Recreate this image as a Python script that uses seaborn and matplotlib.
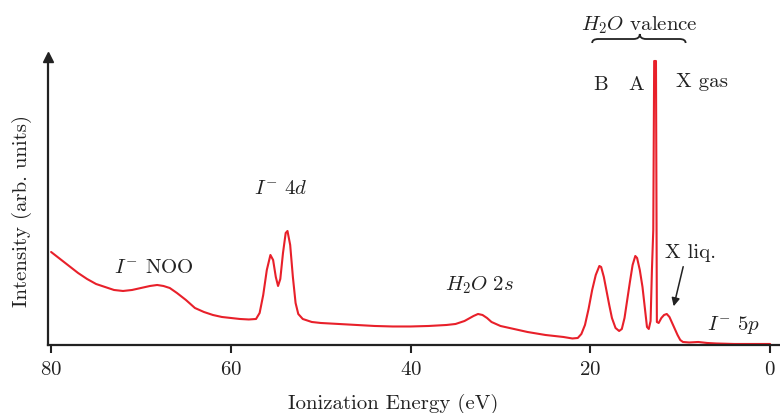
import numpy as np
import pandas as pd
import matplotlib
matplotlib.use("Agg")
import matplotlib.pyplot as plt
import seaborn as sns
from matplotlib.path import Path
from matplotlib.patches import PathPatch

# spectrum (ionization energy in eV, intensity arb. units)
energy = [80.0, 79.0, 78.0, 77.0, 76.0, 75.0, 74.0, 73.0, 72.0, 71.0, 70.0, 69.0,
          68.2, 67.5, 66.8, 66.0, 65.0, 64.0, 63.0, 62.0, 61.0, 60.0, 59.0, 58.0,
          57.2, 56.8, 56.4, 56.0, 55.6, 55.3, 55.0, 54.75, 54.5, 54.2, 53.9, 53.7,
          53.4, 53.1, 52.8, 52.5, 52.0, 51.0, 50.0, 48.0, 46.0, 44.0, 42.0, 40.0,
          38.0, 36.0, 35.0, 34.0, 33.0, 32.5, 32.0, 31.5, 31.0, 30.0, 29.0, 28.0,
          27.0, 26.0, 25.0, 24.0, 23.0, 22.0, 21.4, 21.0, 20.6, 20.2, 19.8, 19.4,
          19.0, 18.8, 18.5, 18.2, 17.9, 17.6, 17.2, 16.8, 16.5, 16.2, 15.9, 15.6,
          15.3, 15.0, 14.8, 14.5, 14.2, 13.9, 13.7, 13.5, 13.3, 13.15, 13.0, 12.9,
          12.7, 12.6, 12.4, 12.1, 11.8, 11.5, 11.2, 10.9, 10.6, 10.3, 10.0, 9.7,
          9.0, 8.0, 7.0, 6.0, 4.0, 2.0, 0.0]
intensity = [93, 86, 79, 72, 66, 61, 58, 55, 54, 55, 57, 59,
             60, 59, 57, 52, 45, 37, 33, 30, 28, 27, 26, 25.5,
             26, 32, 50, 75, 90, 85, 68, 59, 66, 92, 112, 114,
             100, 68, 42, 31, 26, 23, 22, 21, 20, 19, 18.5, 18.5,
             19, 20, 21, 24, 29, 31, 30, 27, 23, 19, 17, 15,
             13, 11.5, 10, 9, 8, 6.5, 7, 11, 20, 36, 55, 70,
             79, 78, 68, 54, 40, 27, 17, 14, 16, 27, 45, 63,
             80, 89, 87, 75, 58, 34, 18, 16, 24, 75, 115, 284,
             284, 23, 22, 27, 30, 31, 28, 22, 16, 10, 5, 3,
             2.5, 3, 2, 1.5, 1, 1, 1]

df = pd.DataFrame({"energy": energy, "intensity": intensity})

sns.set_style("ticks")
plt.rcParams["font.family"] = ["cmr10"]
plt.rcParams["mathtext.fontset"] = "cm"
plt.rcParams["axes.formatter.use_mathtext"] = True
plt.rcParams["axes.unicode_minus"] = False

fig = plt.figure(figsize=(7.8, 4.14), dpi=100)
ax = fig.add_axes([0.0615, 0.1643, 0.9385, 0.6956])

sns.lineplot(data=df, x="energy", y="intensity", ax=ax, color="#e8202a",
             linewidth=1.5, sort=False)

fs = 15
ax.set_xlim(80.35, -1.1)
ax.set_ylim(0, 288)
ax.set_xticks([80, 60, 40, 20, 0])
ax.set_yticks([])
ax.tick_params(axis="x", direction="out", length=6, width=1.5, labelsize=fs,
               pad=5, colors="#222222")
for side in ["top", "right"]:
    ax.spines[side].set_visible(False)
for side in ["left", "bottom"]:
    ax.spines[side].set_linewidth(1.6)
    ax.spines[side].set_color("#222222")
ax.plot(0, 1, marker="^", color="#222222", ms=7, transform=ax.transAxes,
        clip_on=False)

ax.set_xlabel("Ionization Energy (eV)", fontsize=fs, color="#222222")
ax.set_ylabel("Intensity (arb. units)", fontsize=fs, color="#222222")
ax.xaxis.set_label_coords(0.471, -0.201)
ax.yaxis.set_label_coords(-0.0355, 0.469)
ax.xaxis.label.set_va("center")
ax.yaxis.label.set_va("center")

tkw = dict(fontsize=fs, ha="center", va="center", color="#222222")
ax.text(68.6, 78, r"$I^{-}$ NOO", **tkw)
ax.text(54.5, 157, r"$I^{-}\ 4d$", **tkw)
ax.text(32.3, 61, r"$H_2O\ 2s$", **tkw)
ax.text(18.9, 261, "B", **tkw)
ax.text(14.9, 261, "A", **tkw)
ax.text(7.6, 264, "X gas", **tkw)
ax.text(8.9, 93, "X liq.", **tkw)
ax.text(4.1, 21, r"$I^{-}\ 5p$", **tkw)
ax.text(14.5, 321, r"$H_2O$ valence", clip_on=False, **tkw)

ax.annotate("", xy=(10.8, 36), xytext=(9.6, 81),
            arrowprops=dict(arrowstyle="-|>", color="#222222", lw=1.1,
                            mutation_scale=12))

# curly brace over the valence band
xl, xm, xr, c = 19.8, 14.5, 9.4, 0.7
ye, yf, yt = 302, 306, 311
verts = [(xl, ye), (xl, yf), (xl - c, yf), (xm + c, yf), (xm, yf), (xm, yt),
         (xm, yf), (xm - c, yf), (xr + c, yf), (xr, yf), (xr, ye)]
codes = [Path.MOVETO, Path.CURVE3, Path.CURVE3, Path.LINETO, Path.CURVE3,
         Path.CURVE3, Path.CURVE3, Path.CURVE3, Path.LINETO, Path.CURVE3,
         Path.CURVE3]
ax.add_patch(PathPatch(Path(verts, codes), fill=False, lw=1.3,
                       color="#222222", clip_on=False))

fig.savefig("out.png", dpi=100)
